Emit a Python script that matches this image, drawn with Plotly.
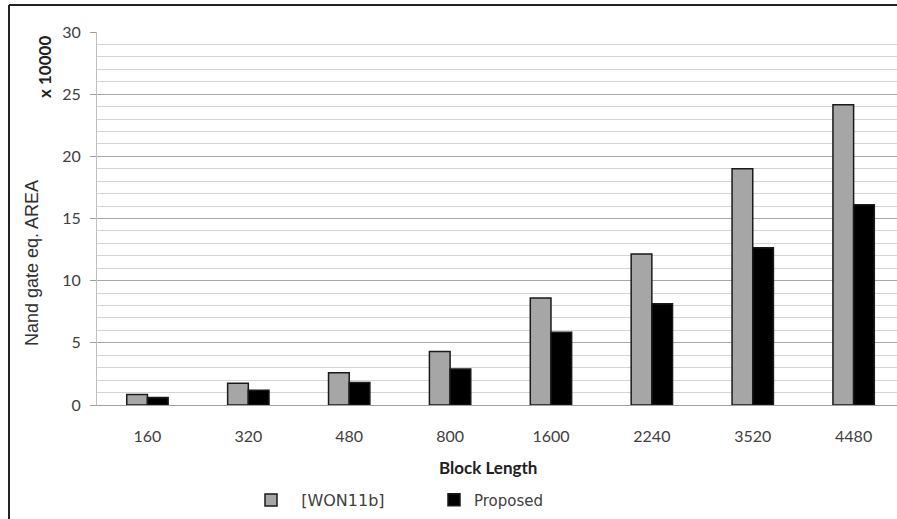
import plotly.graph_objects as go

categories = ["160", "320", "480", "800", "1600", "2240", "3520", "4480"]
won11b = [0.85, 1.75, 2.6, 4.3, 8.6, 12.15, 19.0, 24.15]
proposed = [0.6, 1.18, 1.8, 2.9, 5.85, 8.15, 12.65, 16.1]
series_names = ["\u00a0\u00a0[WON11b]", "Proposed"]
y_ticks = [0, 5, 10, 15, 20, 25, 30]

W, H = 897, 519
L, R, T, B = 97, 0, 32, 114
pw, ph = W - L - R, H - T - B

def px(x):
    return (x - L) / pw

def py(y):
    return (H - B - y) / ph

fig = go.Figure()
fig.add_trace(go.Bar(x=categories, y=won11b, name=series_names[0],
                     marker=dict(color="#a6a6a6", line=dict(color="#1a1a1a", width=1.5)),
                     legend="legend", showlegend=True))
fig.add_trace(go.Bar(x=categories, y=proposed, name=series_names[1],
                     marker=dict(color="#000000", line=dict(color="#1a1a1a", width=1.5)),
                     legend="legend2", showlegend=True))

fig.update_layout(
    width=W, height=H,
    showlegend=True,
    margin=dict(l=L, r=R, t=T, b=B, pad=0, autoexpand=False),
    paper_bgcolor="white", plot_bgcolor="white",
    barmode="group", bargap=0.59, bargroupgap=0,
    font=dict(family="Lato", color="#404040"),
    xaxis=dict(range=[-0.5, 7.43], showgrid=False, ticks="", showline=True,
               linecolor="#a0a0a0", linewidth=1,
               tickfont=dict(family="Lato", size=16, color="#404040"),
               ticklabelstandoff=17, fixedrange=True, automargin=False),
    yaxis=dict(range=[0, 30], tickvals=y_ticks, showgrid=True, gridcolor="#a8a8a8",
               gridwidth=1, zeroline=False, showline=True, linecolor="#c0c0c0",
               ticks="outside", ticklen=6, tickcolor="#a0a0a0",
               tickfont=dict(family="Lato", size=16, color="#404040"),
               ticklabelstandoff=6, automargin=False,
               minor=dict(dtick=1, showgrid=True, gridcolor="#d4d4d4", ticks=""),
               fixedrange=True),
    legend=dict(orientation="h", xref="container", yref="container",
                x=251 / W, y=1 - 500 / H, xanchor="left", yanchor="middle",
                font=dict(family="DejaVu Sans", size=16, color="#404040"),
                bgcolor="rgba(0,0,0,0)", borderwidth=0),
    legend2=dict(orientation="h", xref="container", yref="container",
                 x=434 / W, y=1 - 500 / H, xanchor="left", yanchor="middle",
                 font=dict(family="DejaVu Sans", size=15, color="#404040"),
                 bgcolor="rgba(0,0,0,0)", borderwidth=0),
    annotations=[
        dict(text="Nand gate eq. AREA", x=px(32), y=py(263), xref="paper", yref="paper",
             textangle=-90, showarrow=False, xanchor="center", yanchor="middle",
             font=dict(family="Liberation Sans", size=18, color="#303030")),
        dict(text="<b>x 10000</b>", x=px(45), y=py(67), xref="paper", yref="paper",
             textangle=-90, showarrow=False, xanchor="center", yanchor="middle",
             font=dict(family="Lato", size=17, color="#202020")),
        dict(text="<b>Block Length</b>", x=px(488), y=py(467), xref="paper", yref="paper",
             showarrow=False, xanchor="center", yanchor="middle",
             font=dict(family="Lato", size=17, color="#202020")),
    ],
    shapes=[
        dict(type="line", xref="paper", yref="paper", x0=px(9), x1=px(9), y0=py(5), y1=py(530),
             line=dict(color="#222222", width=2)),
        dict(type="line", xref="paper", yref="paper", x0=px(9), x1=px(910), y0=py(5), y1=py(5),
             line=dict(color="#222222", width=2)),
    ],
)

fig.write_html("out.html", config={"displayModeBar": False},
               post_script="document.body.style.margin='0';")
